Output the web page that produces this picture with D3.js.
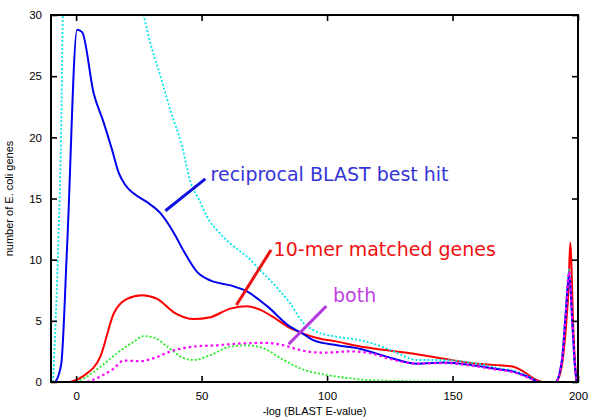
<!DOCTYPE html>
<html>
<head>
<meta charset="utf-8">
<script src="https://cdn.jsdelivr.net/npm/d3@7"></script>
<style>
  html, body { margin: 0; padding: 0; background: #fff; }
  svg { display: block; }
</style>
</head>
<body>
<svg id="chart" width="600" height="420"></svg>
<script>
// ---------- data ----------
const xTicks = [0, 50, 100, 150, 200];
const yTicks = [0, 5, 10, 15, 20, 25, 30];

const reciprocalX = [-8.2, -5.9, -3.6, 0.4, 2.4, 7.0, 11.0, 14.3, 17.0, 19.6, 23.0, 28.3, 33.6, 38.9, 42.9, 48.2, 53.5, 61.5, 68.1, 76.1, 85.4, 90.0, 94.7, 104, 113.3, 126.6, 135.9, 146.5, 157.1, 166.4, 174.3, 179.7, 185, 191, 193.6, 195, 196.5, 197.7, 198.7, 199.5];
const reciprocalY = [0, 1.5, 11, 28.8, 28.6, 23.6, 21.2, 19.0, 17.1, 16.1, 15.4, 14.7, 13.8, 12.2, 10.7, 9.0, 8.3, 7.9, 7.4, 6.2, 4.5, 4.0, 3.4, 3.0, 2.7, 1.9, 1.5, 1.6, 1.4, 1.1, 0.85, 0.45, 0, 0, 1.8, 5.3, 8.8, 5, 1.5, 0];

const merX = [-2.3, 3, 9.7, 15, 20.3, 26.3, 32.3, 38.9, 46.9, 53.5, 61.5, 68.1, 73.4, 80.1, 85.4, 90, 96, 104, 113.3, 120, 133.2, 146.5, 159.8, 166.4, 174.3, 178.3, 182.3, 185.7, 191, 192.9, 195, 196.3, 196.9, 198.2, 199.3];
const merY = [0, 0.5, 2.1, 5.6, 6.8, 7.1, 6.8, 5.7, 5.15, 5.3, 6.0, 6.2, 5.9, 5.1, 4.4, 4.0, 3.6, 3.3, 2.9, 2.7, 2.35, 1.9, 1.5, 1.4, 1.25, 0.85, 0.3, 0, 0, 0.7, 4, 8, 11.4, 4, 0];

const greenX = [0, 4, 9.7, 16.3, 23, 26.9, 30.9, 36.3, 42.9, 46.9, 53.5, 61.5, 68.1, 74.7, 82.7, 90.7, 100, 109.3, 117.3, 130, 150, 165];
const greenY = [0, 0.4, 1.25, 2.35, 3.3, 3.75, 3.65, 2.9, 1.95, 1.8, 2.2, 2.9, 3.0, 2.75, 1.8, 1.0, 0.57, 0.3, 0.15, 0.08, 0.03, 0];

const bothX = [4.4, 9.7, 15, 19, 25.6, 30.9, 37.6, 46.9, 56.2, 65.4, 76.1, 82.7, 89.4, 98.6, 109.3, 117.3, 126.6, 135.9, 146.5, 157.1, 166.4, 174.3, 179.7, 185, 191, 193.6, 195, 196.5, 197.7, 198.7, 199.5];
const bothY = [0, 0.45, 1.1, 1.75, 1.7, 1.95, 2.5, 2.9, 3.0, 3.15, 3.2, 3.0, 2.6, 2.4, 2.5, 2.35, 1.8, 1.5, 1.55, 1.35, 1.05, 0.8, 0.4, 0, 0, 1.8, 5.3, 9, 5, 1.5, 0];

const allX = [-9.2, -7, -6, -5.3, -4, -2, 0, 3, 8, 14, 20, 26.9, 29.6, 33.6, 37.6, 42.2, 45.5, 49, 53, 56.2, 61.5, 69.4, 72.1, 77.4, 85.4, 90.7, 96, 104, 113.3, 117.3, 126.6, 135.9, 146.5, 157.1, 169, 175.7, 180, 185, 191, 193.6, 195, 196.5, 197.7, 198.7, 199.5];
const allY = [0, 12, 20, 30, 40, 50, 55, 56, 50, 43, 36, 30, 27.7, 25.0, 22.2, 19.3, 16.4, 14.9, 13.2, 12.4, 11.3, 10.0, 9.4, 8.3, 6.4, 4.8, 4.1, 3.7, 3.4, 3.2, 2.5, 1.8, 1.8, 1.6, 1.1, 0.85, 0.5, 0, 0, 1.8, 5.5, 9.2, 5, 1.5, 0];

// annotations: label, text anchor (data), pointer line (data)
const labelTexts = ["reciprocal BLAST best hit", "10-mer matched genes", "both"];
const labelX = [53.6, 78.7, 102.4];
const labelY = [16.4, 10.3, 6.5];
const pointerX1 = [35.6, 63.9, 84.7];
const pointerY1 = [14.0, 6.3, 3.1];
const pointerX2 = [51.5, 77.7, 99.7];
const pointerY2 = [16.6, 10.8, 6.2];

// ---------- layout ----------
const svg = d3.select("#chart");
const L = 51, R = 578, T = 15, B = 382;
const x = d3.scaleLinear().domain([-10, 200]).range([L, R]);
const y = d3.scaleLinear().domain([0, 30]).range([B, T]);

svg.append("defs").append("clipPath").attr("id", "clip")
  .append("rect").attr("x", L).attr("y", T).attr("width", R - L).attr("height", B - T);

const zip = (xs, ys) => xs.map((v, i) => [v, ys[i]]);
const line = d3.line().x(d => x(d[0])).y(d => y(d[1])).curve(d3.curveMonotoneX);

const series = [
  { data: zip(merX, merY), color: "#ff0000", width: 2, dash: null },
  { data: zip(greenX, greenY), color: "#22ee22", width: 1.8, dash: "2,2" },
  { data: zip(allX, allY), color: "#00e8e8", width: 1.8, dash: "2,2" },
  { data: zip(reciprocalX, reciprocalY), color: "#0000ee", width: 2, dash: null },
  { data: zip(bothX, bothY), color: "#ff00ff", width: 2.2, dash: "2.5,3" }
];

const g = svg.append("g").attr("clip-path", "url(#clip)");
series.forEach(s => {
  g.append("path").datum(s.data)
    .attr("d", line)
    .attr("fill", "none")
    .attr("stroke", s.color)
    .attr("stroke-width", s.width)
    .attr("stroke-dasharray", s.dash);
});

// ---------- axes (gnuplot style: ticks inside, mirrored) ----------
const tickFont = "Liberation Sans, Arial, sans-serif";
const axB = d3.axisBottom(x).tickValues(xTicks).tickSizeInner(-6).tickSizeOuter(0).tickPadding(10);
const axT = d3.axisTop(x).tickValues(xTicks).tickSizeInner(-6).tickSizeOuter(0).tickFormat("");
const axL = d3.axisLeft(y).tickValues(yTicks).tickSizeInner(-6).tickSizeOuter(0).tickPadding(9);
const axR = d3.axisRight(y).tickValues(yTicks).tickSizeInner(-6).tickSizeOuter(0).tickFormat("");

function styleAxis(sel) {
  sel.select(".domain").remove();
  sel.selectAll(".tick line").attr("stroke", "#000").attr("stroke-width", 1.6);
  sel.selectAll(".tick text").attr("font-family", tickFont).attr("font-size", 11.5).attr("fill", "#000");
}
svg.append("g").attr("transform", `translate(0,${B})`).call(axB).call(styleAxis);
svg.append("g").attr("transform", `translate(0,${T})`).call(axT).call(styleAxis);
svg.append("g").attr("transform", `translate(${L},0)`).call(axL).call(styleAxis);
svg.append("g").attr("transform", `translate(${R},0)`).call(axR).call(styleAxis);

svg.append("rect").attr("x", L).attr("y", T).attr("width", R - L).attr("height", B - T)
  .attr("fill", "none").attr("stroke", "#000").attr("stroke-width", 2);

// axis titles
svg.append("text").attr("x", (L + R) / 2).attr("y", 415)
  .attr("text-anchor", "middle").attr("font-family", tickFont).attr("font-size", 11)
  .text("-log (BLAST E-value)");
svg.append("text")
  .attr("transform", `translate(13,${(T + B) / 2}) rotate(-90)`)
  .attr("text-anchor", "middle").attr("font-family", tickFont).attr("font-size", 11)
  .text("number of E. coli genes");

// ---------- annotations ----------
const textColors = ["#3535d5", "#ee1111", "#c03fdf"];
const lineColors = ["#1010e0", "#ee1111", "#b43ce0"];
labelTexts.forEach((t, i) => {
  svg.append("line")
    .attr("x1", x(pointerX1[i])).attr("y1", y(pointerY1[i]))
    .attr("x2", x(pointerX2[i])).attr("y2", y(pointerY2[i]))
    .attr("stroke", lineColors[i]).attr("stroke-width", 3);
  svg.append("text")
    .attr("x", x(labelX[i])).attr("y", y(labelY[i]))
    .attr("font-family", "DejaVu Sans, sans-serif").attr("font-size", 19)
    .attr("fill", textColors[i])
    .text(t);
});
</script>
</body>
</html>
